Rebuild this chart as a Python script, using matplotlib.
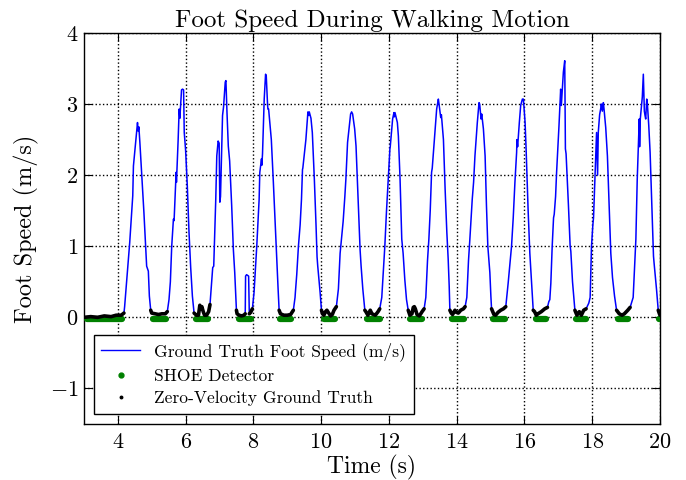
import matplotlib
matplotlib.use("Agg")
import matplotlib.pyplot as plt
from matplotlib.lines import Line2D
import numpy as np

plt.rcParams['font.family'] = ['cmr10', 'DejaVu Serif']
plt.rcParams['mathtext.fontset'] = 'cm'
plt.rcParams['axes.formatter.use_mathtext'] = True
plt.rcParams['axes.unicode_minus'] = True

# ---- data ----
time_s = [3.0, 3.2, 3.4, 3.6, 3.8, 3.95, 4.1, 4.18, 4.2, 4.25, 4.3, 4.35, 4.41, 4.44, 4.46, 4.51, 4.55, 4.58,
          4.6, 4.62, 4.65, 4.7, 4.77, 4.82, 4.85, 4.9, 4.93, 4.97,
          5.0, 5.1, 5.2, 5.3, 5.4, 5.46, 5.51, 5.55, 5.59, 5.64, 5.66, 5.72, 5.73, 5.78, 5.81, 5.83, 5.85,
          5.88, 5.91, 5.94, 5.96, 6.0, 6.05, 6.1, 6.15, 6.2, 6.24,
          6.25, 6.32, 6.38, 6.42, 6.45, 6.48, 6.52, 6.56, 6.62, 6.68, 6.72, 6.76, 6.8, 6.83, 6.89, 6.92, 6.96,
          6.99, 7.01, 7.03, 7.09, 7.12, 7.17, 7.19, 7.22, 7.26, 7.3, 7.36, 7.41, 7.45, 7.48, 7.5,
          7.52, 7.58, 7.65, 7.72, 7.76, 7.77, 7.8, 7.86, 7.88, 7.92, 7.97, 8.02, 8.1, 8.17, 8.19, 8.24, 8.25,
          8.27, 8.32, 8.36, 8.38, 8.42, 8.43, 8.45, 8.53, 8.59, 8.65, 8.69, 8.73, 8.76,
          8.8, 8.9, 9.0, 9.1, 9.18, 9.23, 9.24, 9.28, 9.33, 9.38, 9.42, 9.45, 9.46, 9.55, 9.6, 9.61, 9.63,
          9.65, 9.7, 9.74, 9.8, 9.85, 9.88, 9.9, 9.97, 10.01,
          10.04, 10.08, 10.13, 10.17, 10.21, 10.28, 10.33, 10.38, 10.45, 10.51, 10.56, 10.6, 10.65, 10.7,
          10.73, 10.78, 10.8, 10.87, 10.9, 10.93, 10.99, 11.03, 11.1, 11.15, 11.18, 11.23, 11.29,
          11.32, 11.38, 11.45, 11.5, 11.6, 11.68, 11.73, 11.79, 11.88, 11.93, 11.98, 12.03, 12.04, 12.11,
          12.15, 12.16, 12.18, 12.25, 12.28, 12.33, 12.38, 12.42, 12.47, 12.52, 12.57,
          12.62, 12.68, 12.72, 12.75, 12.78, 12.83, 12.9, 12.98, 13.04, 13.09, 13.14, 13.18, 13.22, 13.26,
          13.28, 13.36, 13.41, 13.46, 13.48, 13.53, 13.55, 13.61, 13.66, 13.71, 13.75, 13.78, 13.8,
          13.84, 13.88, 13.95, 14.0, 14.05, 14.12, 14.2, 14.25, 14.3, 14.35, 14.39, 14.46, 14.5, 14.54,
          14.56, 14.61, 14.66, 14.68, 14.72, 14.74, 14.79, 14.84, 14.88, 14.92, 14.98, 15.01, 15.03,
          15.1, 15.15, 15.22, 15.3, 15.38, 15.45, 15.52, 15.58, 15.62, 15.67, 15.72, 15.77, 15.78, 15.8,
          15.85, 15.89, 15.94, 15.97, 16.02, 16.05, 16.11, 16.16, 16.21, 16.26,
          16.3, 16.35, 16.4, 16.5, 16.6, 16.68, 16.72, 16.75, 16.78, 16.82, 16.86, 16.88, 16.92, 16.95,
          17.0, 17.02, 17.07, 17.09, 17.15, 17.19, 17.21, 17.23, 17.3, 17.35, 17.37, 17.42, 17.49,
          17.55, 17.62, 17.68, 17.75, 17.82, 17.9, 17.94, 17.98, 18.02, 18.04, 18.08, 18.13, 18.16, 18.18,
          18.22, 18.25, 18.27, 18.3, 18.33, 18.35, 18.4, 18.45, 18.5, 18.55, 18.6, 18.66, 18.72,
          18.8, 18.88, 18.95, 19.05, 19.12, 19.21, 19.26, 19.29, 19.33, 19.39, 19.4, 19.42, 19.48, 19.51,
          19.54, 19.56, 19.58, 19.61, 19.63, 19.67, 19.71, 19.76, 19.81, 19.83, 19.9, 19.95, 20.0]

speed_ms = [0.0, 0.01, 0.0, 0.02, 0.01, 0.03, 0.03, 0.06, 0.15, 0.45, 0.75, 1.05, 1.5, 1.71, 2.13, 2.39, 2.6, 2.74,
            2.62, 2.68, 2.46, 2.04, 1.47, 1.0, 0.72, 0.65, 0.3, 0.1,
            0.06, 0.05, 0.04, 0.05, 0.05, 0.08, 0.25, 0.5, 1.0, 1.38, 1.36, 2.04, 1.9, 2.5, 2.93, 2.8, 2.96,
            3.2, 3.21, 3.2, 2.6, 2.35, 1.85, 1.2, 0.7, 0.3, 0.1,
            0.06, 0.03, 0.03, 0.17, 0.12, 0.15, 0.08, 0.03, 0.03, 0.08, 0.18, 0.45, 0.7, 0.72, 1.66, 2.27, 2.48,
            2.45, 1.62, 1.7, 2.84, 2.96, 3.31, 3.33, 2.9, 2.41, 2.2, 1.57, 0.95, 0.63, 0.3, 0.1,
            0.05, 0.03, 0.02, 0.03, 0.05, 0.58, 0.6, 0.58, 0.05, 0.07, 0.12, 0.35, 1.0, 1.66, 2.04, 2.23, 2.14,
            2.3, 3.07, 3.42, 3.4, 2.98, 2.93, 2.93, 2.5, 1.9, 1.25, 0.82, 0.4, 0.1,
            0.05, 0.03, 0.03, 0.04, 0.1, 0.28, 0.35, 0.6, 1.0, 1.3, 1.66, 2.08, 2.1, 2.5, 2.84, 2.89, 2.84,
            2.89, 2.8, 2.6, 1.94, 1.29, 0.85, 0.72, 0.35, 0.1,
            0.05, 0.03, 0.08, 0.1, 0.07, 0.02, 0.04, 0.1, 0.15, 0.4, 0.9, 1.1, 1.35, 1.7,
            1.94, 2.46, 2.55, 2.86, 2.89, 2.86, 2.65, 2.41, 1.57, 0.95, 0.72, 0.4, 0.1,
            0.08, 0.03, 0.1, 0.05, 0.03, 0.08, 0.12, 0.28, 1.0, 1.5, 1.94, 2.37, 2.4, 2.79,
            2.88, 2.82, 2.88, 2.74, 2.55, 1.94, 1.1, 0.9, 0.53, 0.25, 0.1,
            0.03, 0.05, 0.14, 0.15, 0.12, 0.04, 0.02, 0.08, 0.12, 0.28, 0.8, 1.1, 1.5, 2.04,
            2.1, 2.6, 2.93, 3.07, 3.0, 2.81, 2.85, 2.5, 1.8, 1.2, 0.82, 0.44, 0.1,
            0.06, 0.04, 0.1, 0.07, 0.06, 0.1, 0.12, 0.15, 0.28, 0.8, 1.1, 1.66, 1.9, 2.27,
            2.4, 2.74, 3.02, 3.0, 2.79, 2.86, 2.65, 2.27, 1.57, 1.0, 0.63, 0.3, 0.12,
            0.04, 0.03, 0.07, 0.1, 0.12, 0.15, 0.48, 0.8, 1.0, 1.4, 1.9, 2.32, 2.5, 2.4,
            2.74, 2.98, 3.07, 3.07, 2.74, 2.37, 1.5, 0.9, 0.5, 0.1,
            0.08, 0.03, 0.05, 0.08, 0.12, 0.14, 0.22, 0.25, 0.48, 1.0, 1.4, 1.45, 1.7, 2.04,
            2.5, 2.69, 3.21, 2.98, 3.45, 3.61, 2.37, 2.3, 1.57, 1.0, 0.93, 0.5, 0.1,
            0.03, 0.08, 0.03, 0.1, 0.12, 0.2, 0.28, 1.0, 1.3, 1.4, 1.94, 2.6, 2.0, 2.6,
            2.85, 2.93, 3.0, 2.9, 3.02, 2.93, 2.67, 2.27, 1.57, 0.9, 0.56, 0.3, 0.1,
            0.05, 0.03, 0.05, 0.1, 0.14, 0.28, 0.8, 1.1, 1.94, 2.79, 2.4, 2.79, 3.1, 3.42,
            2.9, 2.84, 2.79, 3.07, 3.0, 2.7, 2.32, 1.57, 0.86, 0.75, 0.39, 0.1, 0.03]

# zero-velocity ground-truth intervals (start, end) in s
zv_start = [3.0, 4.97, 6.25, 7.5, 7.88, 8.76, 10.01, 11.29, 12.57, 13.8, 15.03, 16.26, 17.49, 18.72, 19.95]
zv_end = [4.18, 5.46, 6.72, 7.76, 7.97, 9.18, 10.45, 11.73, 13.04, 14.25, 15.45, 16.68, 17.82, 19.12, 20.0]

# SHOE detector intervals (start, end) in s
shoe_start = [3.08, 5.03, 6.3, 7.57, 8.78, 10.08, 11.34, 12.61, 13.85, 15.06, 16.33, 17.51, 18.75, 19.96]
shoe_end = [4.13, 5.43, 6.67, 7.94, 9.12, 10.42, 11.75, 12.99, 14.22, 15.43, 16.64, 17.83, 19.07, 20.1]
shoe_level = -0.02

title = "Foot Speed During Walking Motion"
xlabel = "Time (s)"
ylabel = "Foot Speed (m/s)"
legend_labels = ["Ground Truth Foot Speed (m/s)", "SHOE Detector", "Zero-Velocity Ground Truth"]
xticks = [4, 6, 8, 10, 12, 14, 16, 18, 20]
yticks = [-1, 0, 1, 2, 3, 4]

# ---- plot ----
fig = plt.figure(figsize=(6.86, 4.80), dpi=100)
fig.patch.set_facecolor('white')
ax = fig.add_axes([0.1224, 0.1167, 0.8396, 0.8146])

t = np.array(time_s)
v = np.array(speed_ms)
ax.plot(t, v, color='#0000ff', lw=1.1, zorder=3)

for s, e in zip(shoe_start, shoe_end):
    ax.plot([s, e], [shoe_level, shoe_level], color='#008000', lw=4.5,
            solid_capstyle='round', zorder=4)

for s, e in zip(zv_start, zv_end):
    m = (t >= s) & (t <= e)
    ax.plot(t[m], v[m], color='k', lw=2.6, solid_capstyle='round',
            solid_joinstyle='round', zorder=5)

ax.set_xlim(3, 20)
ax.set_ylim(-1.5, 4)
ax.set_xticks(xticks)
ax.set_yticks(yticks)
ax.grid(True, color='k', linestyle=':', linewidth=1.0)
ax.tick_params(direction='in', top=True, right=True, length=6, width=0.8,
               labelsize=16)
ax.tick_params(axis='x', pad=6)
ax.tick_params(axis='y', pad=4)
for sp in ax.spines.values():
    sp.set_linewidth(1.0)
ax.set_title(title, fontsize=18, pad=4)
ax.set_xlabel(xlabel, fontsize=17, labelpad=2)
ax.set_ylabel(ylabel, fontsize=17.5, labelpad=8)

handles = [Line2D([], [], color='#0000ff', lw=1.0),
           Line2D([], [], color='#008000', ls='none', marker='o', markersize=3.5),
           Line2D([], [], color='k', ls='none', marker='o', markersize=1.8)]
leg = ax.legend(handles, legend_labels, loc='lower left', fontsize=12.6,
                fancybox=False, framealpha=1, edgecolor='k', borderaxespad=0.55,
                handlelength=2.2, labelspacing=0.4, borderpad=0.45)
leg.get_frame().set_linewidth(1.0)

fig.savefig('out.png', dpi=100, facecolor='white')
